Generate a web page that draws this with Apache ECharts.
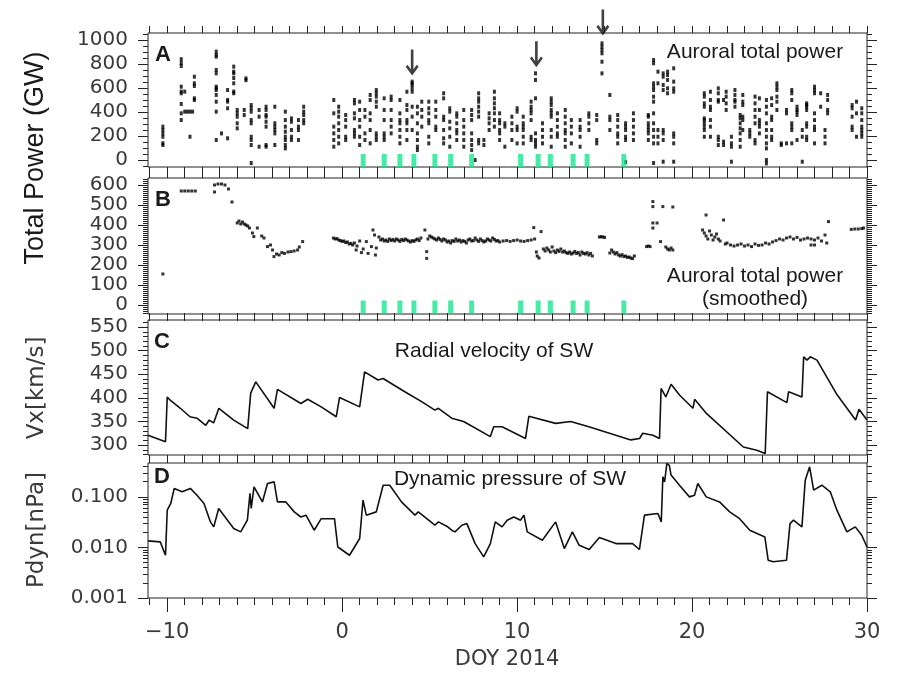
<!DOCTYPE html>
<html><head><meta charset="utf-8">
<script src="https://cdn.jsdelivr.net/npm/echarts@6/dist/echarts.min.js"></script>
<style>html,body{margin:0;padding:0;background:#fff}#c{width:897px;height:674px}</style>
</head><body><div id="c"></div><script>
// ---------------- DATA ----------------
// Panel A: auroral total power (GW), columns of points per HST visit: [DOY, [values]]
const auroralPower = [
 [-10.25,[278,250,222,194,140,125]],
 [-9.2,[840,808,783,611,570,556,467,389,333]],
 [-9.0,[570,403]],[-8.85,[403]],[-8.7,[403,194]],[-8.55,[403]],
 [-8.45,[694,639,617,514,500]],
 [-7.2,[903,875,861,750,722,611,597,583,542,486,403,167]],
 [-6.9,[222]],
 [-6.55,[583,500,486,431,181]],
 [-6.2,[778,736,722,683,639,570,556]],
 [-6.0,[417,389,361,306,264]],
 [-5.6,[417,375]],[-5.5,[680,665]],
 [-5.2,[458,431,403,333,306,194,167,125,-25]],
 [-4.75,[417,361,111]],
 [-4.35,[444,417,375,361,319,278,125,111]],
 [-3.85,[444,306,278,250,222,125]],
 [-3.25,[403,333,278,236,194,167,125,97]],
 [-2.9,[347,319,250,194,167]],
 [-2.5,[333,278,250,167]],
 [-2.2,[444,403,375,333,306]],
 [-0.48,[500,389,278,222,167,111]],
 [-0.2,[444,403,361,306,250,194,139]],
 [0.2,[375,333,278,194,167]],
 [0.7,[500,472,389,347,250,222,194]],
 [1.0,[486,417,333,278,194,125]],
 [1.3,[417,361,222,167]],
 [1.6,[542,500,389,333,250,139]],
 [1.95,[583,556,528,486,444,222,194,167]],
 [2.4,[514,417,333,222,194,167]],
 [2.8,[528,500,417,333,278,222]],
 [3.3,[500,389,333,306,250,194,139]],
 [3.7,[569,458,417,333,306,250,167]],
 [4.0,[653,639,625,597,569,444,361,250]],
 [4.3,[444,389,306,222,167,111,83]],
 [4.55,[486,417,361,278]],
 [4.95,[486,431,389,333,306,194,139]],
 [5.35,[486,417,361,278,250]],
 [5.8,[556,514,361,333,250,181,139]],
 [6.15,[431,403,319,264,194,111]],
 [6.55,[389,361,306,250,222,167]],
 [6.95,[417,333,278,222,167,111]],
 [7.4,[417,375,333,222,167,125,83]],
 [7.6,[0]],
 [7.8,[556,514,486,444,403,361,167,139]],
 [8.1,[167,125]],
 [8.4,[389,347,306,250]],
 [8.7,[569,514,472,431,389,333,278]],
 [9.0,[389,333,306,250,222,167]],
 [9.3,[306,278,111]],
 [9.7,[361,306,250,167]],
 [10.0,[431,403,278,250,139]],
 [10.35,[361,306,278,250,194,139]],
 [10.8,[486,444,417,389,333,194,167]],
 [11.05,[722,667,514,222,167,139,111]],
 [11.45,[306,250,194,139]],
 [11.95,[514,486,458,417,389,361,250,194,111]],
 [12.3,[389,333,278,222,194]],
 [12.75,[417,361,306,250,222,167,111]],
 [13.1,[333,278,222,139]],
 [13.6,[333,278,250,194,111]],
 [14.1,[389,361,306,250]],
 [14.55,[375,333,167,139]],
 [14.85,[972,944,917,889,819,722]],
 [15.3,[542,361,333,250]],
 [15.75,[375,333,278,222,194,139]],
 [16.2,[306,278,250,194,167,-17]],
 [16.65,[389,333,278,222,167]],
 [17.5,[375,361,306,278,250,222,167]],
 [17.8,[833,806,639,611,583,528,486,389,306,250,194,139,-25]],
 [18.05,[736,639,250,194,139]],
 [18.35,[722,694,625,583,250,222,167,-14]],
 [18.6,[736,708,667,597,556]],
 [18.95,[764,653,597,569,222,194,139,-14]],
 [20.7,[556,528,472,444,347,333,306,278,250,194]],
 [21.05,[569,500,444,417,333,278,194]],
 [21.5,[597,556,500,486,194,167,125]],
 [21.8,[500,153,125]],
 [21.95,[569,528,472,417]],
 [22.25,[194,139,111,-14]],
 [22.45,[583,542,500,486,444]],
 [22.75,[375,347,306,264,222,167,111]],
 [22.9,[542,486,458,361,333,250]],
 [23.3,[250,222,194]],
 [23.6,[528,472,417,361,306,167,139]],
 [23.85,[514,417,333,306,278,222]],
 [24.25,[500,444,389,306,250,194,139,97,0,-28]],
 [24.55,[514,458,361,333,250,194,167]],
 [24.85,[639,611,583,528,486,417]],
 [25.1,[139,125]],
 [25.4,[417,389,139]],
 [25.7,[583,556,500,306,278,250,139]],
 [26.0,[444,417,403,375,167]],
 [26.3,[250,194,-14]],
 [26.55,[472,458,444,417,306,278,194,167]],
 [27.0,[611,583,556,389,333,278,250,139]],
 [27.35,[556,444]],
 [27.6,[250,194,139]],
 [27.75,[542,500,417,389]],
 [29.15,[458,431,361,278,250]],
 [29.4,[486,389,194]],
 [29.7,[431,389,333,278,250,222,194]]
];
// Panel B: smoothed auroral total power (GW): [DOY, value]
const smoothedPower = [
 [-10.25,155],
 [-9.2,570],[-9.0,570],[-8.8,570],[-8.6,570],[-8.4,570],
 [-7.3,600],[-7.3,565],[-7.1,605],[-6.9,605],[-6.7,600],[-6.5,580],[-6.3,515],
 [-6.0,410],[-5.9,420],[-5.8,405],[-5.7,415],[-5.6,405],[-5.5,400],[-5.4,395],[-5.3,385],
 [-5.13,360],[-5.05,342],[-4.85,385],[-4.6,345],[-4.47,335],[-4.27,292],[-4.1,300],[-3.98,275],[-3.9,242],
 [-3.75,255],[-3.6,250],[-3.45,262],[-3.3,258],[-3.1,265],[-2.93,267],[-2.75,270],[-2.55,275],[-2.45,290],[-2.26,317],
 [-0.5,335],[-0.4,330],[-0.3,332],[-0.2,325],[-0.1,322],[0.0,318],[0.1,320],[0.2,312],[0.3,315],[0.4,305],
 [0.5,308],[0.6,300],[0.7,310],[0.8,275],[0.85,295],[1.0,320],[1.1,262],[1.2,280],[1.38,317],[1.48,258],
 [1.67,292],[1.76,375],[1.85,350],[1.9,250],[1.95,285],
 [2.1,340],[2.2,325],[2.3,330],[2.4,320],[2.5,325],[2.6,318],[2.7,330],[2.8,322],[2.9,328],[3.0,320],
 [3.1,330],[3.2,325],[3.3,318],[3.4,328],[3.5,322],[3.6,330],[3.7,325],[3.8,320],[3.9,315],[4.0,322],
 [4.1,318],[4.2,325],[4.3,330],[4.4,322],[4.5,335],[4.73,375],[4.83,267],[4.83,233],
 [4.9,330],[5.0,345],[5.1,340],[5.2,335],[5.3,330],[5.4,325],[5.5,335],[5.6,328],[5.7,320],[5.8,330],
 [5.9,325],[6.0,315],[6.1,320],[6.2,310],[6.3,322],[6.4,318],[6.5,330],[6.6,320],[6.7,325],[6.8,315],
 [6.9,322],[7.0,318],[7.1,310],[7.2,325],[7.3,330],[7.4,320],[7.5,322],[7.6,335],[7.7,325],[7.8,318],
 [7.9,330],[8.0,322],[8.1,315],[8.2,320],[8.3,330],[8.4,325],[8.5,320],[8.6,335],[8.7,328],[8.8,320],
 [8.9,322],[9.0,315],[9.2,320],[9.4,322],[9.6,318],[9.8,322],[10.0,325],[10.2,320],[10.4,318],[10.6,322],
 [10.8,325],[10.95,387],[11.0,330],[11.1,265],[11.15,245],[11.25,235],[11.37,367],
 [11.5,280],[11.6,270],[11.7,285],[11.8,275],[11.9,265],[12.0,290],[12.1,270],[12.2,262],[12.3,275],[12.4,268],
 [12.5,280],[12.6,265],[12.7,270],[12.8,262],[12.9,258],[13.0,265],[13.1,255],[13.2,260],[13.3,268],[13.4,258],
 [13.5,262],[13.6,250],[13.7,265],[13.8,258],[13.9,255],[14.0,262],[14.1,250],[14.2,258],[14.3,245],
 [14.7,340],[14.8,342],[14.9,340],[15.0,338],
 [15.3,260],[15.4,275],[15.5,265],[15.6,255],[15.7,262],[15.8,250],[15.9,245],[16.0,252],[16.1,242],[16.2,245],
 [16.3,238],[16.4,240],[16.5,235],[16.6,232],[16.7,245],
 [17.4,292],[17.5,295],[17.6,292],[17.76,517],[17.76,492],[17.76,410],[17.76,385],[18.0,410],[18.2,317],[18.33,492],
 [18.5,290],[18.6,280],[18.7,275],[18.8,285],[18.9,490],[18.9,275],
 [20.6,375],[20.7,360],[20.8,450],[20.8,345],[20.9,330],[21.0,370],[21.1,350],[21.2,325],[21.3,340],[21.4,355],
 [21.5,330],[21.6,320],[21.8,425],[21.9,305],[22.0,310],[22.2,300],[22.4,295],[22.6,300],[22.8,305],[23.0,295],
 [23.2,300],[23.4,292],[23.6,305],[23.8,298],[24.0,300],[24.2,310],[24.4,305],[24.6,315],[24.8,322],[25.0,330],
 [25.2,325],[25.4,335],[25.6,340],[25.8,330],[26.0,338],[26.2,325],[26.4,330],[26.6,335],[26.8,300],[26.8,330],
 [27.0,300],[27.0,325],[27.2,335],[27.4,320],[27.6,350],[27.7,310],[27.8,417],
 [29.1,378],[29.3,380],[29.5,380],[29.7,382],[29.8,385]
];
// Panel C: radial velocity of solar wind (km/s)
const vxSW = [
 [-11.1,321],[-10.1,307],[-10.0,402],[-9.83,395],[-9.25,378],[-8.7,360],[-8.3,357],[-7.8,342],[-7.6,353],
 [-7.35,347],[-7.05,378],[-6.2,353],[-5.4,335],[-5.23,410],[-4.94,434],[-3.89,378],[-3.7,418],[-2.36,388],
 [-1.97,397],[-1.2,381],[-0.34,360],[-0.15,401],[1.0,381],[1.28,455],[2.05,438],[2.34,441],[3.58,413],
 [4.54,392],[5.3,374],[5.5,378],[6.26,357],[6.94,350],[7.03,353],[8.47,318],[8.66,339],[9.14,339],
 [10.48,314],[10.67,361],[12.2,346],[13.06,350],[14.1,339],[16.5,311],[17.0,314],[17.18,325],[17.76,321],
 [18.14,314],[18.23,420],[18.5,402],[18.8,429],[19.28,406],[20.05,378],[20.15,397],[20.82,367],[22.93,296],
 [23.7,289],[24.18,282],[24.31,413],[25.42,390],[25.52,413],[26.28,402],[26.38,487],[26.57,480],[26.76,487],
 [27.14,480],[28.3,406],[29.35,353],[29.54,376],[30.0,353]
];
// Panel D: dynamic pressure of solar wind (nPa)
const pdynSW = [
 [-11.1,0.0135],[-10.4,0.0129],[-10.1,0.0070],[-10.0,0.0546],[-9.8,0.074],[-9.6,0.147],[-9.15,0.126],
 [-8.68,0.147],[-8.3,0.108],[-7.9,0.074],[-7.53,0.032],[-7.34,0.0255],[-7.06,0.059],[-6.77,0.0435],
 [-6.2,0.0237],[-5.8,0.0203],[-5.42,0.0346],[-5.27,0.117],[-5.2,0.059],[-5.04,0.158],[-4.56,0.0795],
 [-4.27,0.184],[-3.89,0.198],[-3.7,0.0795],[-3.22,0.0795],[-2.74,0.0505],[-2.36,0.040],[-2.07,0.0435],
 [-1.6,0.0219],[-1.2,0.037],[-0.44,0.037],[-0.25,0.0102],[0.42,0.0070],[1.0,0.015],[1.19,0.086],
 [1.38,0.0435],[1.95,0.0505],[2.34,0.17],[2.72,0.17],[3.39,0.0795],[4.16,0.0435],[4.35,0.0505],
 [5.3,0.0275],[5.5,0.032],[6.0,0.026],[6.26,0.0219],[6.45,0.0203],[6.84,0.0275],[7.13,0.0296],[7.6,0.0119],
 [8.09,0.0065],[8.47,0.0119],[8.75,0.032],[9.14,0.0255],[9.43,0.0346],[9.81,0.040],[10.2,0.0346],
 [10.39,0.0435],[10.58,0.0203],[11.44,0.0139],[12.2,0.032],[12.7,0.0095],[13.16,0.0203],[13.55,0.011],
 [14.12,0.0091],[14.7,0.0157],[15.65,0.0119],[16.6,0.0119],[16.99,0.0091],[17.28,0.0435],[18.05,0.0468],
 [18.24,0.032],[18.33,0.249],[18.43,0.198],[18.56,0.458],[18.7,0.42],[18.8,0.27],[19.28,0.17],[19.85,0.100],
 [20.14,0.108],[20.33,0.184],[20.81,0.100],[21.57,0.0795],[22.15,0.0505],[22.72,0.037],[23.3,0.0219],
 [24.16,0.0161],[24.35,0.0056],[24.64,0.0052],[25.4,0.0056],[25.6,0.0296],[25.8,0.0346],[26.28,0.0255],
 [26.47,0.214],[26.72,0.393],[26.95,0.136],[27.42,0.17],[27.9,0.126],[28.28,0.0546],[28.85,0.0203],
 [29.33,0.0255],[29.7,0.0174],[30.0,0.0102]
];
// HST observation markers (green) and arrows (DOY, arrow top, arrow tip in GW)
const hstDays = [1.2, 2.4, 3.3, 4.1, 5.3, 6.2, 7.4, 10.2, 11.2, 11.9, 13.2, 14.0, 16.1];
const arrowDays = [4.0, 11.1, 14.9];
const arrowTops = [917, 986, 1250];
const arrowTips = [708, 778, 1042];
// Tick labels
const xLabelTicks = [-10, 0, 10, 20, 30];
const yLabelsA = [0, 200, 400, 600, 800, 1000];
const yLabelsB = [0, 100, 200, 300, 400, 500, 600];
const yLabelsC = [300, 350, 400, 450, 500, 550];
const yLabelsD = [0.001, 0.010, 0.100];

// ---------------- BUILD ----------------
const X_MIN = -11.1, X_MAX = 30;
const dayTicks = []; for (let d = -11; d <= 30; d++) dayTicks.push(d);
function range(a, b, s) { const r = []; for (let v = a; v <= b + 1e-9; v += s) r.push(+v.toFixed(6)); return r; }
const logMinor = [];
[-3, -2, -1].forEach(n => { for (let k = 1; k <= 9; k++) logMinor.push(Math.log10(k * Math.pow(10, n))); });

const TICK = '#222', LABEL = '#3a3a3a';
const panels = [
  {top: 33, height: 134, min: -58, max: 1058, labels: yLabelsA, minor: range(-50, 1050, 50), fmt: v => String(v)},
  {top: 178, height: 136, min: -45, max: 635, labels: yLabelsB, minor: range(-40, 630, 10), fmt: v => String(v)},
  {top: 320, height: 135, min: 279, max: 565, labels: yLabelsC, minor: range(280, 560, 10), fmt: v => String(v)},
  {top: 463, height: 135, min: -3, max: -0.33, labels: yLabelsD.map(v => Math.log10(v)), minor: logMinor.filter(v => v <= -0.33),
   fmt: v => Math.pow(10, v).toFixed(3)}
];
const grids = [], xAxis = [], yAxis = [], series = [];
function xAx(gi, pos, ticks, len, labels) {
  return {gridIndex: gi, type: 'value', position: pos, min: X_MIN, max: X_MAX,
    axisLine: {show: false, onZero: false}, splitLine: {show: false},
    axisTick: {show: true, customValues: ticks, length: len, inside: false, lineStyle: {color: TICK, width: 1}},
    axisLabel: labels ? {show: true, customValues: xLabelTicks, margin: 24, fontFamily: 'DejaVu Sans', fontSize: 21,
      color: LABEL, formatter: v => (v < 0 ? '\u2212' + Math.abs(v) : String(v))} : {show: false}};
}
function yAx(gi, pos, p, ticks, len, labels) {
  return {gridIndex: gi, type: 'value', position: pos, min: p.min, max: p.max,
    axisLine: {show: false, onZero: false}, splitLine: {show: false},
    axisTick: {show: true, customValues: ticks, length: len, inside: false, lineStyle: {color: TICK, width: 1}},
    axisLabel: labels ? {show: true, customValues: p.labels, margin: 20, fontFamily: 'DejaVu Sans', fontSize: 20,
      color: LABEL, formatter: p.fmt} : {show: false}};
}
panels.forEach((p, i) => {
  grids.push({left: 148, top: p.top, width: 719, height: p.height, show: true, borderColor: '#222', borderWidth: 1});
  p.xi = xAxis.length;
  xAxis.push(xAx(i, 'bottom', dayTicks, 7, false));
  xAxis.push(xAx(i, 'top', dayTicks, 7, false));
  if (i === 3) xAxis.push(xAx(i, 'bottom', xLabelTicks, 14, true));
  p.yi = yAxis.length;
  yAxis.push(yAx(i, 'left', p, p.labels, 10, true));
  yAxis.push(yAx(i, 'left', p, p.minor, 5, false));
  yAxis.push(yAx(i, 'right', p, p.labels, 10, false));
  yAxis.push(yAx(i, 'right', p, p.minor, 5, false));
});
// overlay grid for the arrows (same x scale and same GW scale as panel A, extended upward)
const A = panels[0];
grids.push({left: 148, top: 0, width: 719, height: 167, show: false});
const ovX = xAxis.length, ovY = yAxis.length;
xAxis.push({gridIndex: 4, type: 'value', min: X_MIN, max: X_MAX, show: false});
yAxis.push({gridIndex: 4, type: 'value', min: A.min, max: A.min + (A.max - A.min) * 167 / A.height, show: false});

const aPts = [];
auroralPower.forEach(([d, vals]) => vals.forEach(v => aPts.push([d, v])));
const GREEN = '#19e68f';
series.push({type: 'scatter', xAxisIndex: panels[0].xi, yAxisIndex: panels[0].yi, data: aPts,
  symbol: 'rect', symbolSize: [3, 4], itemStyle: {color: '#000'}, silent: true});
series.push({type: 'scatter', xAxisIndex: panels[0].xi, yAxisIndex: panels[0].yi, data: hstDays.map(d => [d, -4]),
  symbol: 'rect', symbolSize: [5, 13], itemStyle: {color: GREEN}, silent: true});
series.push({type: 'scatter', xAxisIndex: panels[1].xi, yAxisIndex: panels[1].yi, data: smoothedPower,
  symbol: 'rect', symbolSize: [3, 3], itemStyle: {color: '#000'}, silent: true});
series.push({type: 'scatter', xAxisIndex: panels[1].xi, yAxisIndex: panels[1].yi, data: hstDays.map(d => [d, -10]),
  symbol: 'rect', symbolSize: [5, 13], itemStyle: {color: GREEN}, silent: true});
series.push({type: 'line', xAxisIndex: panels[2].xi, yAxisIndex: panels[2].yi, data: vxSW,
  symbol: 'none', lineStyle: {color: '#111', width: 1.6}, silent: true});
series.push({type: 'line', xAxisIndex: panels[3].xi, yAxisIndex: panels[3].yi,
  data: pdynSW.map(([d, p]) => [d, Math.log10(p)]),
  symbol: 'none', lineStyle: {color: '#111', width: 1.6}, silent: true});
const arrowPath = 'path://M8,0 L12,0 L12,35 L8,35 Z M0,26.5 L3,23.5 L10,33.5 L17,23.5 L20,26.5 L10,40 Z';
series.push({type: 'scatter', xAxisIndex: ovX, yAxisIndex: ovY, clip: false,
  data: arrowDays.map((d, i) => [d, (arrowTops[i] + arrowTips[i]) / 2]),
  symbol: arrowPath, symbolSize: [13, 26], itemStyle: {color: '#111'}, silent: true});

const txt = (x, y, text, font, extra) => Object.assign({type: 'text', x: x, y: y, silent: true,
  style: {text: text, font: font, fill: '#1a1a1a', align: 'center', verticalAlign: 'middle'}}, extra || {});
const graphic = [
  txt(163, 55, 'A', 'bold 22px "Liberation Sans", Arial, sans-serif'),
  txt(163, 200, 'B', 'bold 22px "Liberation Sans", Arial, sans-serif'),
  txt(162, 342, 'C', 'bold 22px "Liberation Sans", Arial, sans-serif'),
  txt(162, 477, 'D', 'bold 22px "Liberation Sans", Arial, sans-serif'),
  txt(755, 52, 'Auroral total power', '21px "Liberation Sans", Arial, sans-serif'),
  txt(755, 276, 'Auroral total power', '21px "Liberation Sans", Arial, sans-serif'),
  txt(755, 299, '(smoothed)', '21px "Liberation Sans", Arial, sans-serif'),
  txt(494, 351, 'Radial velocity of SW', '21px "Liberation Sans", Arial, sans-serif'),
  txt(510, 479, 'Dynamic pressure of SW', '21px "Liberation Sans", Arial, sans-serif'),
  txt(36, 158, 'Total Power (GW)', '27px "Liberation Sans", Arial, sans-serif', {rotation: Math.PI / 2}),
  txt(37, 388, 'Vx[km/s]', '23px "DejaVu Sans", sans-serif', {rotation: Math.PI / 2, style: {text: 'Vx[km/s]', font: '23px "DejaVu Sans", sans-serif', fill: '#3a3a3a', align: 'center', verticalAlign: 'middle'}}),
  txt(37, 530, 'Pdyn[nPa]', '23px "DejaVu Sans", sans-serif', {rotation: Math.PI / 2, style: {text: 'Pdyn[nPa]', font: '23px "DejaVu Sans", sans-serif', fill: '#3a3a3a', align: 'center', verticalAlign: 'middle'}}),
  txt(507, 660, 'DOY 2014', '21px "DejaVu Sans", sans-serif', {style: {text: 'DOY 2014', font: '21px "DejaVu Sans", sans-serif', fill: '#3a3a3a', align: 'center', verticalAlign: 'middle'}})
];

const chart = echarts.init(document.getElementById('c'), null, {renderer: 'canvas'});
chart.setOption({animation: false, backgroundColor: '#fff', grid: grids, xAxis: xAxis, yAxis: yAxis,
  series: series, graphic: graphic});
</script></body></html>
